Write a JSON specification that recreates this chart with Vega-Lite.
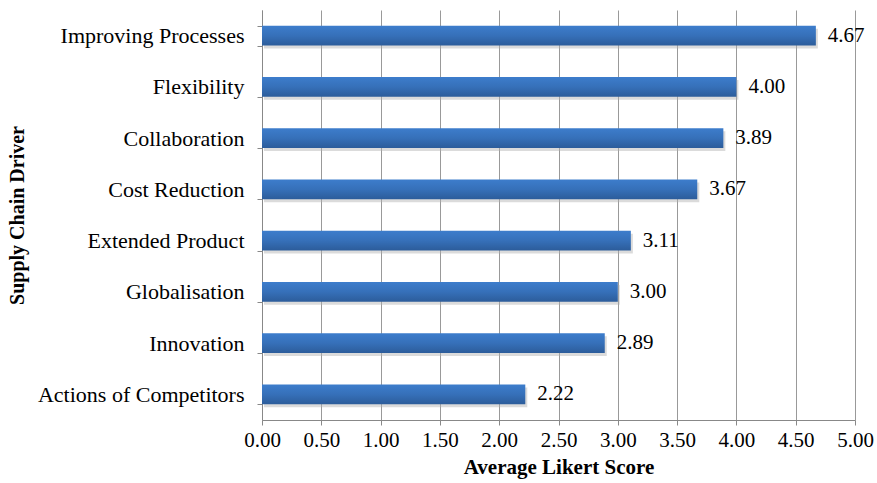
{
  "$schema": "https://vega.github.io/schema/vega-lite/v6.json",
  "width": 593,
  "height": 410,
  "autosize": {"type": "none"},
  "padding": {"left": 262, "top": 10, "right": 22, "bottom": 63},
  "background": "white",
  "config": {
    "view": {"stroke": null},
    "font": "Liberation Serif"
  },
  "data": {
    "values": [
      {"driver": "Improving Processes", "score": 4.67},
      {"driver": "Flexibility", "score": 4.00},
      {"driver": "Collaboration", "score": 3.89},
      {"driver": "Cost Reduction", "score": 3.67},
      {"driver": "Extended Product", "score": 3.11},
      {"driver": "Globalisation", "score": 3.00},
      {"driver": "Innovation", "score": 2.89},
      {"driver": "Actions of Competitors", "score": 2.22}
    ]
  },
  "encoding": {
    "y": {
      "field": "driver",
      "type": "nominal",
      "sort": null,
      "scale": {"paddingInner": 0.61, "paddingOuter": 0.305},
      "axis": {
        "title": "Supply Chain Driver",
        "titleFont": "Liberation Serif",
        "titleFontSize": 20,
        "titleFontWeight": "bold",
        "titleColor": "black",
        "titlePadding": 35,
        "labelFont": "Liberation Serif",
        "labelFontSize": 22,
        "labelColor": "black",
        "labelPadding": 13,
        "labelLimit": 400,
        "tickBand": "extent",
        "tickSize": 5,
        "tickColor": "#888888",
        "domainColor": "#888888",
        "grid": false
      }
    },
    "x": {
      "field": "score",
      "type": "quantitative",
      "scale": {"domain": [0, 5], "nice": false},
      "axis": {
        "title": "Average Likert Score",
        "titleFont": "Liberation Serif",
        "titleFontSize": 21,
        "titleFontWeight": "bold",
        "titleColor": "black",
        "titlePadding": 6,
        "values": [0, 0.5, 1, 1.5, 2, 2.5, 3, 3.5, 4, 4.5, 5],
        "format": ".2f",
        "labelFont": "Liberation Serif",
        "labelFontSize": 21,
        "labelColor": "black",
        "labelPadding": 4,
        "labelFlush": false,
        "tickSize": 5,
        "tickColor": "#888888",
        "domainColor": "#888888",
        "grid": true,
        "gridColor": "#999999",
        "gridWidth": 1
      }
    }
  },
  "layer": [
    {
      "mark": {
        "type": "bar",
        "color": "#b0b0b0",
        "opacity": 0.45,
        "xOffset": 2,
        "yOffset": 3
      }
    },
    {
      "mark": {
        "type": "bar",
        "color": {
          "gradient": "linear",
          "x1": 0, "y1": 0, "x2": 0, "y2": 1,
          "stops": [
            {"offset": 0, "color": "#3d7dcc"},
            {"offset": 0.5, "color": "#3670b9"},
            {"offset": 1, "color": "#2c5c9a"}
          ]
        }
      }
    },
    {
      "mark": {
        "type": "text",
        "align": "left",
        "baseline": "middle",
        "dx": 12,
        "fontSize": 21,
        "font": "Liberation Serif",
        "color": "black"
      },
      "encoding": {
        "text": {"field": "score", "type": "quantitative", "format": ".2f"}
      }
    }
  ]
}
